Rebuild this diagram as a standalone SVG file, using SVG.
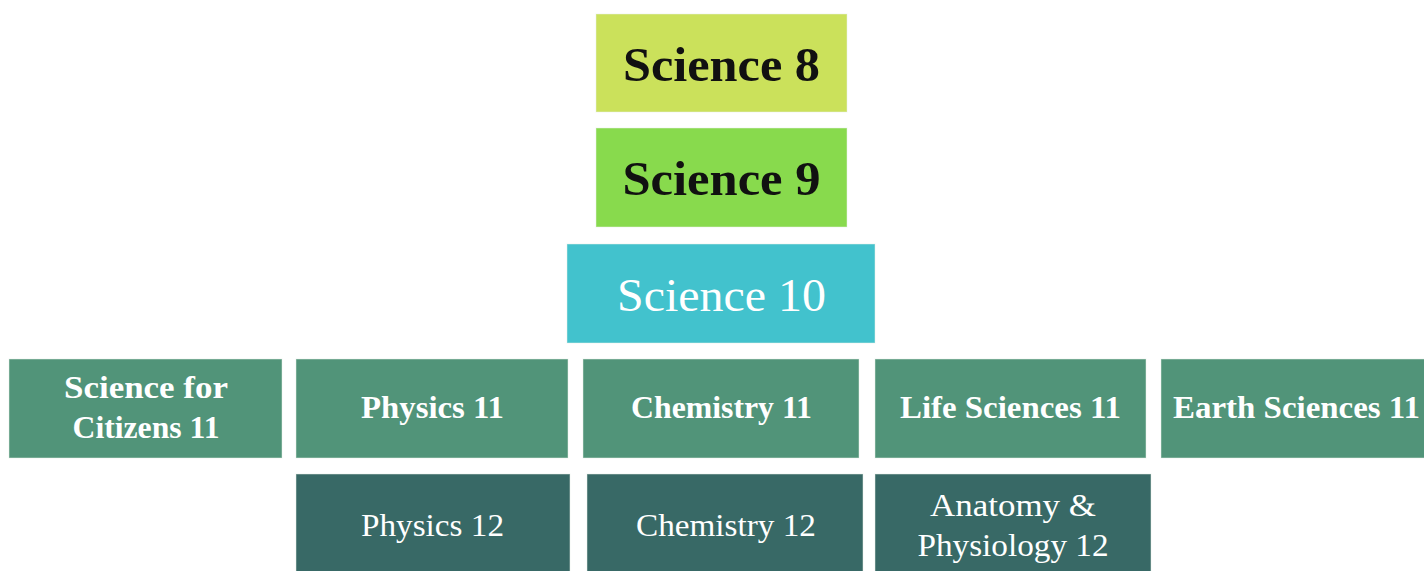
<svg xmlns="http://www.w3.org/2000/svg" width="1424" height="571" viewBox="0 0 1424 571">
<style>
text{font-family:"Liberation Serif","DejaVu Serif",serif;text-anchor:middle}
.top{font-size:48px;font-weight:bold;fill:#111111}
.s10{font-size:46px;fill:#ffffff}
.r11{font-size:31px;font-weight:bold;fill:#ffffff}
.r12{font-size:31px;fill:#ffffff}
.box{stroke:#e8f0e8;stroke-opacity:0.5;stroke-width:1}
.c8{fill:#cbe15b}.c9{fill:#88da4d}.c10{fill:#42c2cd}.c11{fill:#519479}.c12{fill:#386966}
</style>
<rect width="1424" height="571" fill="#ffffff"/>
<g id="connectors"></g>
<g id="science8"><rect class="box c8" x="596" y="14" width="251" height="98"/><text class="top" x="721.5" y="81" textLength="197" lengthAdjust="spacingAndGlyphs">Science 8</text></g>
<g id="science9"><rect class="box c9" x="596" y="128" width="251" height="99"/><text class="top" x="721.5" y="195" textLength="198" lengthAdjust="spacingAndGlyphs">Science 9</text></g>
<g id="science10"><rect class="box c10" x="567" y="244" width="308" height="99"/><text class="s10" x="721.5" y="311" textLength="209" lengthAdjust="spacingAndGlyphs">Science 10</text></g>
<g id="sci-citizens11"><rect class="box c11" x="9" y="359" width="273" height="99"/><text class="r11" x="146" y="398" textLength="164" lengthAdjust="spacingAndGlyphs">Science for</text><text class="r11" x="146" y="438" textLength="147" lengthAdjust="spacingAndGlyphs">Citizens 11</text></g>
<g id="physics11"><rect class="box c11" x="296" y="359" width="272" height="99"/><text class="r11" x="432.5" y="418" textLength="143" lengthAdjust="spacingAndGlyphs">Physics 11</text></g>
<g id="chemistry11"><rect class="box c11" x="583" y="359" width="276" height="99"/><text class="r11" x="721.5" y="418" textLength="181" lengthAdjust="spacingAndGlyphs">Chemistry 11</text></g>
<g id="life11"><rect class="box c11" x="875" y="359" width="271" height="99"/><text class="r11" x="1010.5" y="418" textLength="221" lengthAdjust="spacingAndGlyphs">Life Sciences 11</text></g>
<g id="earth11"><rect class="box c11" x="1161" y="359" width="270" height="99"/><text class="r11" x="1296.5" y="418" textLength="247" lengthAdjust="spacingAndGlyphs">Earth Sciences 11</text></g>
<g id="physics12"><rect class="box c12" x="296" y="474" width="274" height="105"/><text class="r12" x="432.5" y="536" textLength="143" lengthAdjust="spacingAndGlyphs">Physics 12</text></g>
<g id="chemistry12"><rect class="box c12" x="587" y="474" width="276" height="105"/><text class="r12" x="726" y="536" textLength="180" lengthAdjust="spacingAndGlyphs">Chemistry 12</text></g>
<g id="anatomy12"><rect class="box c12" x="875" y="474" width="276" height="105"/><text class="r12" x="1013" y="516" textLength="166" lengthAdjust="spacingAndGlyphs">Anatomy &amp;</text><text class="r12" x="1013" y="556" textLength="191" lengthAdjust="spacingAndGlyphs">Physiology 12</text></g>
</svg>
